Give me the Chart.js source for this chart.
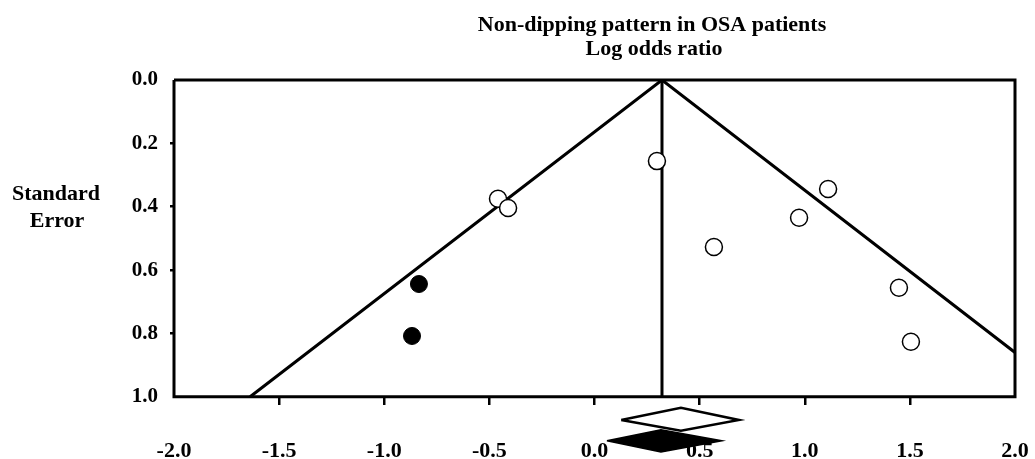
<!DOCTYPE html>
<html>
<head>
<meta charset="utf-8">
<title>Funnel plot</title>
<script src="https://cdn.jsdelivr.net/npm/chart.js@4.4.1/dist/chart.umd.min.js"></script>
<style>
    html, body { margin: 0; padding: 0; background: #fff; }
    #wrap { width: 1035px; height: 459px; position: relative; }
</style>
</head>
<body>
<div id="wrap"><canvas id="chartFunnel"></canvas></div>
<script>
// Funnel plot data
const xTicks = [-2.0, -1.5, -1.0, -0.5, 0.0, 0.5, 1.0, 1.5, 2.0];
const seTicks = [0.0, 0.2, 0.4, 0.6, 0.8, 1.0];

const summaryLogOR = 0.321;

// pseudo confidence limits of the funnel
const funnelX = [-1.638, 0.321, 2.0];
const funnelSE = [1.0, 0.0, 0.860];

// observed studies
const openX = [0.297, -0.459, -0.411, 1.111, 0.973, 0.568, 1.448, 1.505];
const openSE = [0.256, 0.375, 0.404, 0.344, 0.435, 0.527, 0.656, 0.826];

// imputed studies (trim and fill)
const filledX = [-0.835, -0.868];
const filledSE = [0.644, 0.808];

// summary diamonds below the axis
const openDiamondX = [0.127, 0.411, 0.687, 0.411, 0.127];
const openDiamondSE = [1.073, 1.035, 1.073, 1.107, 1.073];
const filledDiamondX = [0.059, 0.316, 0.606, 0.316, 0.059];
const filledDiamondSE = [1.139, 1.104, 1.139, 1.174, 1.139];

// plot frame
const frameX = [-2.0, 2.0, 2.0, -2.0, -2.0];
const frameSE = [0.0, 0.0, 1.0, 1.0, 0.0];

function pts(xs, ys) {
    return xs.map((x, i) => ({ x: x, y: ys[i] }));
}

const serif = '"Liberation Serif", "Times New Roman", serif';

const textPlugin = {
    id: 'funnelText',
    afterDraw(chart) {
        const ctx = chart.ctx;
        ctx.save();
        ctx.fillStyle = '#000';
        ctx.textAlign = 'center';
        ctx.textBaseline = 'alphabetic';
        ctx.font = 'bold 22px ' + serif;
        ctx.fillText('Non-dipping pattern in OSA patients', 652, 31);
        ctx.fillText('Log odds ratio', 654, 55);
        ctx.font = 'bold 22px ' + serif;
        ctx.fillText('Standard', 56, 200);
        ctx.fillText('Error', 57, 227);
        ctx.restore();
    }
};

function hideEnds(ctx) {
    const n = ctx.scale.ticks.length;
    return (ctx.index === 0 || ctx.index === n - 1) ? 'rgba(0,0,0,0)' : '#000';
}

function noPadding(scale) {
    scale.paddingLeft = 0;
    scale.paddingRight = 0;
    scale.paddingTop = 0;
    scale.paddingBottom = 0;
}

const ctxFunnel = document.getElementById('chartFunnel');
new Chart(ctxFunnel, {
    type: 'scatter',
    data: {
        datasets: [{
                label: 'Observed',
                data: pts(openX, openSE),
                pointRadius: 8.5,
                pointBackgroundColor: '#fff',
                pointBorderColor: '#000',
                pointBorderWidth: 1.5
            },
            {
                label: 'Imputed',
                data: pts(filledX, filledSE),
                pointRadius: 8.5,
                pointBackgroundColor: '#000',
                pointBorderColor: '#000',
                pointBorderWidth: 1
            },
            {
                label: 'Observed summary',
                data: pts(openDiamondX, openDiamondSE),
                showLine: true,
                pointRadius: 0,
                borderColor: '#000',
                borderWidth: 2.5,
                borderJoinStyle: 'miter',
                backgroundColor: '#fff',
                fill: 'shape',
                clip: false
            },
            {
                label: 'Adjusted summary',
                data: pts(filledDiamondX, filledDiamondSE),
                showLine: true,
                pointRadius: 0,
                borderColor: '#000',
                borderWidth: 1.5,
                backgroundColor: '#000',
                fill: 'shape',
                clip: false
            },
            {
                label: 'Funnel',
                data: pts(funnelX, funnelSE),
                showLine: true,
                pointRadius: 0,
                borderColor: '#000',
                borderWidth: 3
            },
            {
                label: 'Summary line',
                data: [{ x: summaryLogOR, y: 0.0 }, { x: summaryLogOR, y: 1.0 }],
                showLine: true,
                pointRadius: 0,
                borderColor: '#000',
                borderWidth: 3
            },
            {
                label: 'Frame',
                data: pts(frameX, frameSE),
                showLine: true,
                pointRadius: 0,
                borderColor: '#000',
                borderWidth: 3,
                borderJoinStyle: 'miter',
                clip: false
            }
        ]
    },
    options: {
        responsive: true,
        maintainAspectRatio: false,
        animation: false,
        layout: {
            autoPadding: false,
            padding: { left: 0, right: 20, top: 80, bottom: 2 }
        },
        plugins: {
            legend: { display: false },
            tooltip: { enabled: false }
        },
        scales: {
            x: {
                type: 'linear',
                min: -2,
                max: 2,
                position: { y: 1.0 },
                afterBuildTicks: (scale) => {
                    scale.ticks = xTicks.map(v => ({ value: v }));
                },
                afterFit: noPadding,
                ticks: {
                    color: '#000',
                    padding: 33,
                    font: {
                        family: serif,
                        size: 22,
                        weight: 'bold'
                    },
                    callback: (v) => Number(v).toFixed(1)
                },
                grid: {
                    drawOnChartArea: false,
                    drawTicks: true,
                    tickLength: 8,
                    lineWidth: 2.5,
                    color: hideEnds
                },
                border: { display: false }
            },
            y: {
                type: 'linear',
                reverse: true,
                min: 0,
                max: 1.19,
                afterBuildTicks: (scale) => {
                    scale.ticks = seTicks.map(v => ({ value: v }));
                },
                afterFit: (scale) => {
                    noPadding(scale);
                    scale.width = 174;
                },
                ticks: {
                    color: '#000',
                    padding: 12,
                    font: {
                        family: serif,
                        size: 21,
                        weight: 'bold'
                    },
                    callback: (v) => Number(v).toFixed(1)
                },
                grid: {
                    drawOnChartArea: false,
                    drawTicks: true,
                    tickLength: 4,
                    lineWidth: 2.5,
                    color: hideEnds
                },
                border: { display: false }
            }
        }
    },
    plugins: [textPlugin]
});
</script>
</body>
</html>
